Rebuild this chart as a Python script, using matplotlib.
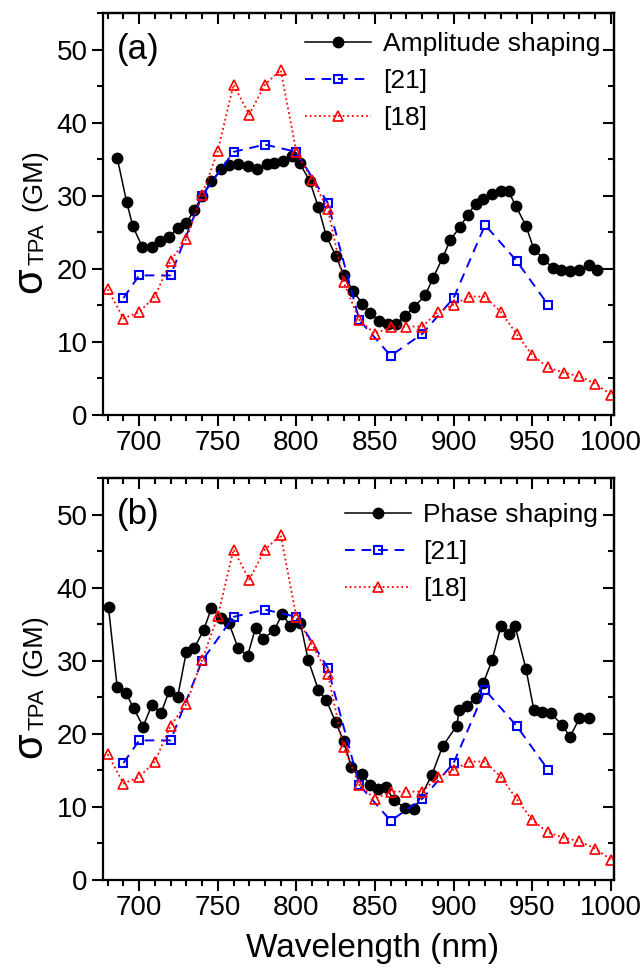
import matplotlib
matplotlib.use("Agg")
import matplotlib.pyplot as plt
from matplotlib.ticker import MultipleLocator

plt.rcParams['font.family'] = ['Liberation Sans', 'DejaVu Sans']
plt.rcParams['mathtext.fontset'] = 'custom'
plt.rcParams['mathtext.rm'] = 'Liberation Sans'
plt.rcParams['axes.linewidth'] = 1.6

# reference data [21] and [18]
ref21_wl = [690, 700, 720, 740, 760, 780, 800, 820, 840, 860, 880, 900, 920, 940, 960]
ref21_gm = [16, 19.1, 19.1, 30, 36, 37, 36, 29, 13, 8.1, 11.1, 16, 26, 21.1, 15.1]

ref18_wl = [680, 690, 700, 710, 720, 730, 740, 750, 760, 770, 780, 790, 800, 810,
            820, 830, 840, 850, 860, 870, 880, 890, 900, 910, 920, 930, 940, 950,
            960, 970, 980, 990, 1000]
ref18_gm = [17.2, 13.2, 14.1, 16.2, 21.1, 24.1, 30.1, 36.1, 45.2, 41.1, 45.2, 47.2,
            36, 32.2, 28.2, 18.2, 13, 11.1, 12.1, 12.1, 12.1, 14.1, 15.1, 16.2, 16.2,
            14.1, 11.1, 8.2, 6.5, 5.8, 5.3, 4.3, 2.8]

# amplitude shaping measurement
amp_wl = [686, 692, 696, 702, 708, 713, 719, 724.5, 730, 735, 740, 746, 752, 757,
          763, 769, 775, 781, 786, 791.5, 797, 802, 808.5, 814, 819, 825, 830, 836,
          842, 847, 852.5, 858, 863.5, 869, 875, 882, 887, 893, 898, 904, 909, 914,
          919, 924.5, 930, 935, 939.5, 946, 951, 957, 963, 968.5, 974, 980, 986, 991.5]
amp_gm = [35.2, 29.2, 25.8, 23.0, 23.0, 23.8, 24.3, 25.6, 26.3, 28.0, 30.0, 32.0,
          33.6, 34.2, 34.3, 34.1, 33.6, 34.3, 34.5, 34.8, 35.4, 34.5, 32.0, 28.4,
          24.5, 21.8, 19.2, 17.0, 15.2, 13.9, 12.9, 12.4, 12.5, 13.5, 14.8, 16.4,
          18.8, 21.5, 24.0, 25.7, 27.4, 28.9, 29.6, 30.3, 30.7, 30.6, 28.6, 25.9,
          22.7, 21.4, 20.1, 19.8, 19.7, 19.9, 20.5, 19.9]

# phase shaping measurement
phase_wl = [680.5, 686, 691.5, 696.5, 702.5, 708, 714, 719, 724.5, 730, 735, 741,
            746, 752, 757, 763, 769, 774, 779, 786, 791, 796, 802.5, 807.5, 814,
            819, 825, 830, 835, 841.5, 847, 852, 857, 862, 869, 875, 886, 893, 902,
            903.5, 908.5, 914, 919, 924.5, 930, 935, 939, 946, 951, 956, 962, 969,
            974, 980, 986]
phase_gm = [37.3, 26.4, 25.6, 23.5, 21.0, 23.9, 22.9, 25.8, 25.1, 31.2, 31.7, 34.2,
            37.2, 35.8, 35.2, 31.7, 30.7, 34.5, 33.0, 34.2, 36.4, 34.8, 35.2, 30.1,
            26.0, 24.6, 21.6, 19.0, 15.5, 14.5, 13.0, 12.5, 12.7, 10.9, 9.9, 9.7,
            14.3, 18.3, 21.1, 23.2, 23.8, 24.9, 27.0, 30.1, 34.7, 33.6, 34.8, 28.9,
            23.3, 23.0, 22.8, 21.2, 19.6, 22.1, 22.1]

panels = [
    ('(a)', 'Amplitude shaping', amp_wl, amp_gm),
    ('(b)', 'Phase shaping', phase_wl, phase_gm),
]

W, H = 644, 971
fig = plt.figure(figsize=(W / 100, H / 100), dpi=100)

# axes boxes in pixels: left, top, right, bottom
boxes = [(103, 13, 614, 415), (103, 478, 614, 880)]
leg_anchor = [(0.973, 0.953), (0.969, 0.938)]


def ylabel_pieces(top_px_shift):
    # sigma, subscript and unit drawn as separate rotated pieces
    bx = 41 / W
    parts = [('σ', 30, 293), ('TPA', 16, 265), ('(GM)', 19.5, 211)]
    for txt, size, ystart in parts:
        off = 2 if txt == 'TPA' else 0
        fig.text(bx + off / W, 1 - (ystart + top_px_shift) / H, txt, fontsize=size,
                 rotation=90, rotation_mode='anchor', ha='left', va='baseline')


for i, (tag, name, wl, gm) in enumerate(panels):
    l, t, r, b = boxes[i]
    ax = fig.add_axes([l / W, 1 - b / H, (r - l) / W, (b - t) / H])

    ax.plot(wl, gm, '-', color='black', lw=1.1, marker='o', ms=7.5,
            mfc='black', mec='black', label=name)
    ax.plot(ref21_wl, ref21_gm, color='#0000ff', lw=1.4, dashes=(5, 3.5),
            marker='s', ms=6, mfc='none', mec='#0000ff', mew=1.5, label='[21]')
    ax.plot(ref18_wl, ref18_gm, color='#ff0000', lw=1.3, linestyle=(0, (1, 1.6)),
            marker='^', ms=7.5, mfc='none', mec='#ff0000', mew=1.2, label='[18]')

    ax.set_xlim(677, 1002)
    ax.set_ylim(0, 55)
    ax.set_xticks([700, 750, 800, 850, 900, 950, 1000])
    ax.set_yticks([0, 10, 20, 30, 40, 50])
    ax.xaxis.set_minor_locator(MultipleLocator(10))
    ax.yaxis.set_minor_locator(MultipleLocator(5))
    ax.tick_params(which='both', direction='out', width=1.5, labelsize=20, pad=3)
    ax.tick_params(which='major', length=8)
    ax.tick_params(which='minor', length=4.5)

    # inward ticks on the top and right edges
    top = ax.secondary_xaxis('top')
    top.set_xticks([700, 750, 800, 850, 900, 950, 1000])
    top.xaxis.set_minor_locator(MultipleLocator(10))
    top.tick_params(which='both', direction='in', width=1.5, labeltop=False)
    top.tick_params(which='major', length=8)
    top.tick_params(which='minor', length=4.5)
    right = ax.secondary_yaxis('right')
    right.set_yticks([0, 10, 20, 30, 40, 50])
    right.yaxis.set_minor_locator(MultipleLocator(5))
    right.tick_params(which='both', direction='in', width=1.5, labelright=False)
    right.tick_params(which='major', length=8)
    right.tick_params(which='minor', length=4.5)

    ax.text(0.027, 0.91, tag, transform=ax.transAxes, fontsize=25,
            ha='left', va='center')

    ax.legend(loc='upper right', bbox_to_anchor=leg_anchor[i], frameon=False,
              fontsize=19, handlelength=2.5, handletextpad=0.45,
              labelspacing=0.5, borderpad=0, borderaxespad=0, numpoints=1)

    ylabel_pieces(t - 13)

    if i == 1:
        ax.set_xlabel('Wavelength (nm)', fontsize=24)
        ax.xaxis.set_label_coords(0.528, -0.132)

fig.savefig('out.png', dpi=100)
